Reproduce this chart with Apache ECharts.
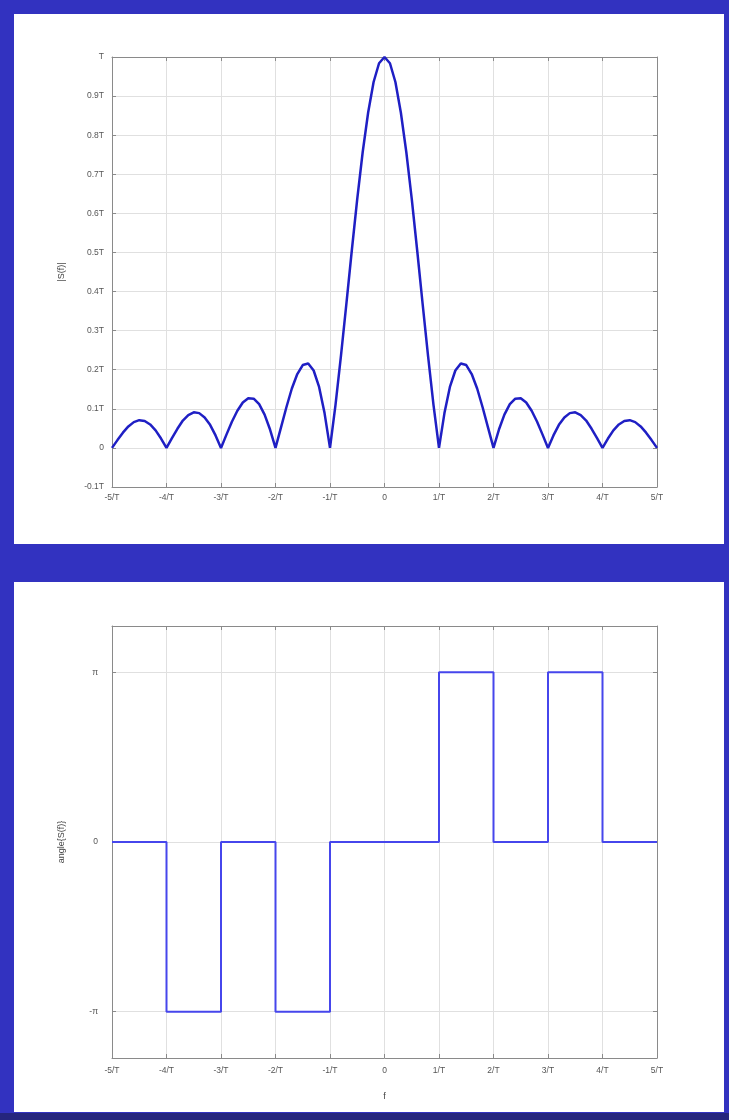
<!DOCTYPE html>
<html>
<head>
<meta charset="utf-8">
<script src="https://cdn.jsdelivr.net/npm/echarts@6/dist/echarts.min.js"></script>
<style>
  html, body { margin: 0; padding: 0; background: #3232c0; }
  #chart { width: 729px; height: 1120px; }
</style>
</head>
<body>
<div id="chart"></div>
<script>
// frequency samples, in units of 1/T
const freq = [
  -5, -4.9, -4.8, -4.7, -4.6, -4.5, -4.4, -4.3, -4.2, -4.1,
  -4, -3.9, -3.8, -3.7, -3.6, -3.5, -3.4, -3.3, -3.2, -3.1,
  -3, -2.9, -2.8, -2.7, -2.6, -2.5, -2.4, -2.3, -2.2, -2.1,
  -2, -1.9, -1.8, -1.7, -1.6, -1.5, -1.4, -1.3, -1.2, -1.1,
  -1, -0.9, -0.8, -0.7, -0.6, -0.5, -0.4, -0.3, -0.2, -0.1,
  0, 0.1, 0.2, 0.3, 0.4, 0.5, 0.6, 0.7, 0.8, 0.9,
  1, 1.1, 1.2, 1.3, 1.4, 1.5, 1.6, 1.7, 1.8, 1.9,
  2, 2.1, 2.2, 2.3, 2.4, 2.5, 2.6, 2.7, 2.8, 2.9,
  3, 3.1, 3.2, 3.3, 3.4, 3.5, 3.6, 3.7, 3.8, 3.9,
  4, 4.1, 4.2, 4.3, 4.4, 4.5, 4.6, 4.7, 4.8, 4.9,
  5
]

// |S(f)| in units of T
const magnitude = [
  0, 0.020, 0.039, 0.055, 0.066, 0.071, 0.069, 0.060, 0.045, 0.024,
  0, 0.025, 0.049, 0.070, 0.084, 0.091, 0.089, 0.078, 0.059, 0.032,
  0, 0.034, 0.067, 0.095, 0.116, 0.127, 0.126, 0.112, 0.085, 0.047,
  0, 0.052, 0.104, 0.152, 0.189, 0.212, 0.216, 0.198, 0.156, 0.089,
  0, 0.109, 0.234, 0.368, 0.505, 0.637, 0.757, 0.858, 0.936, 0.984,
  1, 0.984, 0.936, 0.858, 0.757, 0.637, 0.505, 0.368, 0.234, 0.109,
  0, 0.089, 0.156, 0.198, 0.216, 0.212, 0.189, 0.152, 0.104, 0.052,
  0, 0.047, 0.085, 0.112, 0.126, 0.127, 0.116, 0.095, 0.067, 0.034,
  0, 0.032, 0.059, 0.078, 0.089, 0.091, 0.084, 0.070, 0.049, 0.025,
  0, 0.024, 0.045, 0.060, 0.069, 0.071, 0.066, 0.055, 0.039, 0.020,
  0
]

// phase: value holds from phaseFreq[i] to phaseFreq[i+1] (radians)
const phaseFreq = [-5, -4, -3, -2, -1, 1, 2, 3, 4, 5]
const phase = [0, -3.1416, 0, -3.1416, 0, 3.1416, 0, 3.1416, 0, 0]

const phaseTicks = [-3.1416, 0, 3.1416]
const phaseTickLabels = ['-π', '0', 'π']

const chart = echarts.init(document.getElementById('chart'))

const labelStyle = { color: '#555', fontSize: 8.5, fontFamily: 'Liberation Sans, Arial, sans-serif' }
const nameStyle = { color: '#444', fontSize: 9, fontFamily: 'Liberation Sans, Arial, sans-serif' }
const gridLine = { lineStyle: { color: '#e0e0e0', width: 1 } }
const boxLine = { show: true, onZero: false, lineStyle: { color: '#8a8a8a', width: 1 } }
const tick = { inside: true, length: 4, lineStyle: { color: '#8a8a8a' } }
const freqLabel = v => (v === 0 ? '0' : v + '/T')

const magData = freq.map((f, i) => [f, magnitude[i]])
const phaseData = phaseFreq.map((f, i) => [f, phase[i]])

// box edges on the top and right, MATLAB style
const freqBox = g => ({
  type: 'value', gridIndex: g, position: 'top', min: -5, max: 5, interval: 1,
  axisLine: boxLine, axisTick: tick, axisLabel: { show: false }, splitLine: { show: false },
})

chart.setOption({
  animation: false,
  backgroundColor: '#3232c0',
  graphic: [
    { type: 'rect', shape: { x: 14, y: 14, width: 710, height: 530 }, style: { fill: '#fff' } },
    { type: 'rect', shape: { x: 14, y: 582, width: 710, height: 530 }, style: { fill: '#fff' } },
    { type: 'rect', shape: { x: 0, y: 1113, width: 729, height: 7 }, style: { fill: '#25257e' } },
  ],
  grid: [
    { left: 112, top: 57, width: 545, height: 430 },
    { left: 112, top: 626, width: 545, height: 432 },
  ],
  xAxis: [
    {
      type: 'value',
      gridIndex: 0,
      position: 'bottom',
      min: -5,
      max: 5,
      interval: 1,
      axisLine: boxLine,
      axisTick: tick,
      axisLabel: { ...labelStyle, margin: 6, formatter: freqLabel },
      splitLine: gridLine,
    },
    {
      type: 'value',
      gridIndex: 1,
      position: 'bottom',
      min: -5,
      max: 5,
      interval: 1,
      name: 'f',
      nameLocation: 'middle',
      nameGap: 34,
      nameTextStyle: nameStyle,
      axisLine: boxLine,
      axisTick: tick,
      axisLabel: { ...labelStyle, margin: 8, formatter: freqLabel },
      splitLine: gridLine,
    },
    freqBox(0),
    freqBox(1),
  ],
  yAxis: [
    {
      type: 'value',
      gridIndex: 0,
      position: 'left',
      min: -0.1,
      max: 1,
      interval: 0.1,
      name: '|S(f)|',
      nameLocation: 'middle',
      nameGap: 46,
      nameTextStyle: nameStyle,
      axisLine: boxLine,
      axisTick: tick,
      axisLabel: {
        ...labelStyle,
        margin: 8,
        formatter: v => {
          if (Math.abs(v) < 1e-9) return '0'
          if (Math.abs(v - 1) < 1e-9) return 'T'
          return v.toFixed(1) + 'T'
        },
      },
      splitLine: gridLine,
    },
    {
      type: 'value',
      gridIndex: 1,
      position: 'left',
      min: -4,
      max: 4,
      name: 'angle{S(f)}',
      nameLocation: 'middle',
      nameGap: 46,
      nameTextStyle: nameStyle,
      axisLine: boxLine,
      axisTick: { ...tick, customValues: phaseTicks },
      axisLabel: {
        ...labelStyle,
        margin: 14,
        customValues: phaseTicks,
        formatter: v => phaseTickLabels[phaseTicks.indexOf(v)] ?? '',
      },
      splitLine: gridLine,
    },
    {
      type: 'value', gridIndex: 0, position: 'right', min: -0.1, max: 1, interval: 0.1,
      axisLine: boxLine, axisTick: tick, axisLabel: { show: false }, splitLine: { show: false },
    },
    {
      type: 'value', gridIndex: 1, position: 'right', min: -4, max: 4,
      axisLine: boxLine, axisTick: { ...tick, customValues: phaseTicks },
      axisLabel: { show: false, customValues: phaseTicks }, splitLine: { show: false },
    },
  ],
  series: [
    {
      type: 'line',
      xAxisIndex: 0,
      yAxisIndex: 0,
      data: magData,
      symbol: 'none',
      lineStyle: { color: '#1f1fc4', width: 2.5 },
    },
    {
      type: 'line',
      xAxisIndex: 1,
      yAxisIndex: 1,
      data: phaseData,
      step: 'end',
      symbol: 'none',
      lineStyle: { color: '#4646ec', width: 2 },
    },
  ],
})
</script>
</body>
</html>
